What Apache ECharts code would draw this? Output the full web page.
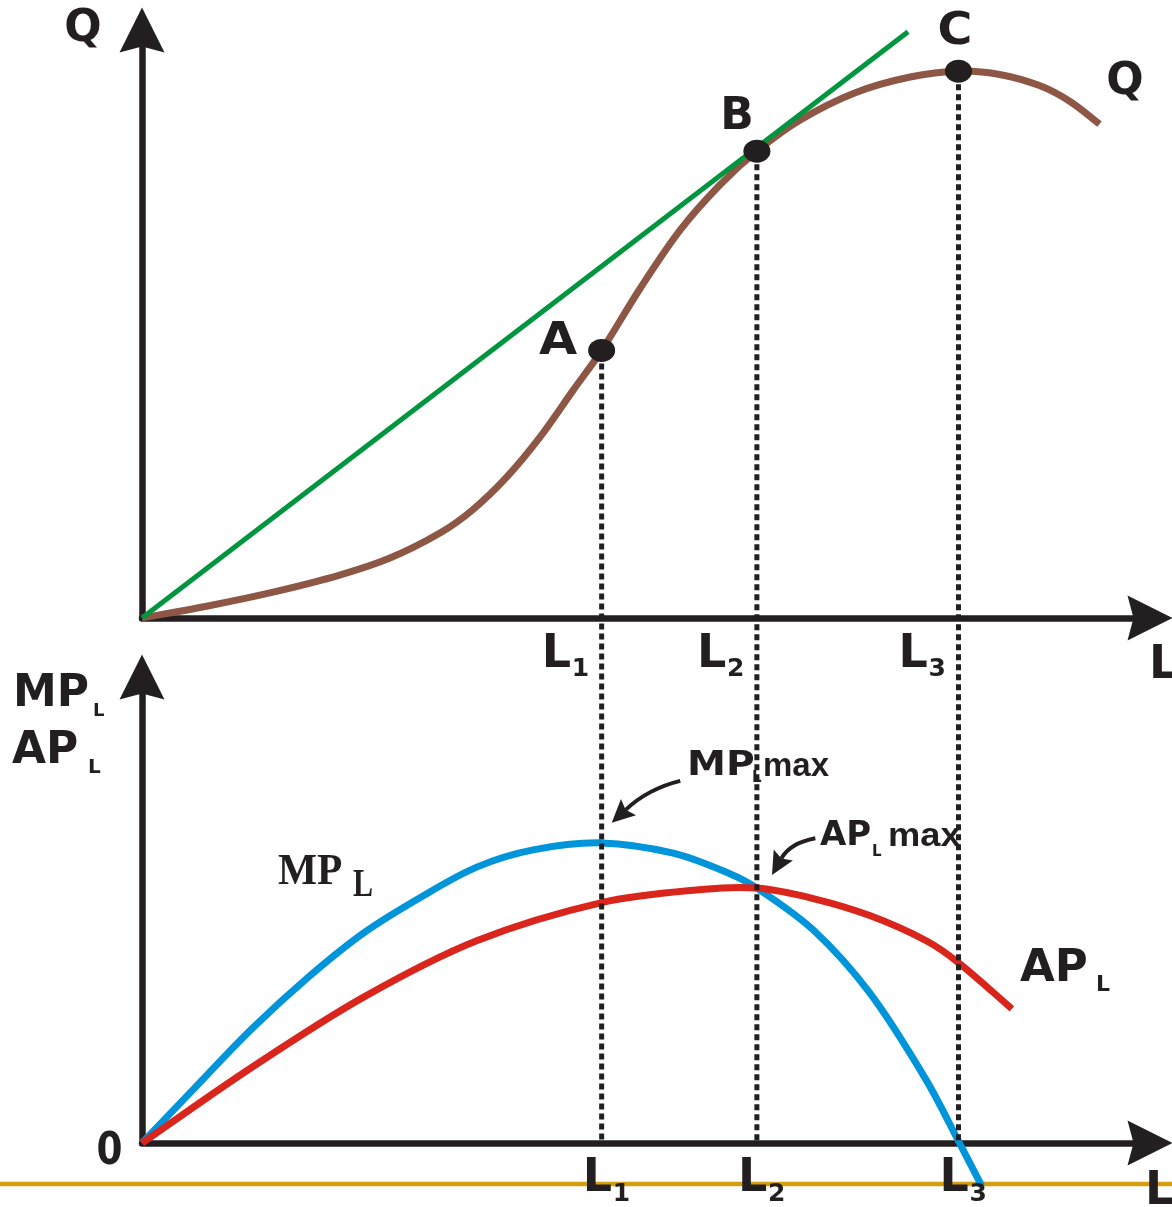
<!DOCTYPE html>
<html>
<head>
<meta charset="utf-8">
<script src="https://cdn.jsdelivr.net/npm/echarts@6/dist/echarts.min.js"></script>
<style>
html,body{margin:0;padding:0;background:#fff;}
#c{width:1172px;height:1207px;}
</style>
</head>
<body>
<div id="c"></div>
<script>
// ---- data (L units 0..100, output units 0..100) ----
const L_ticks = [45.6, 61.0, 81.0];          // L1, L2, L3
const tickSubs = ['1', '2', '3'];
const Q_points = [45.5, 79.4, 93.0];         // Q at A, B, C
const pointNames = ['A', 'B', 'C'];

const qL = [0, 6.4, 13.0, 19.6, 24.6, 29.6, 32.8, 36.2, 39.5, 42.8, 45.6, 49.4, 53.4, 57.3, 61.0, 65.3, 70.7, 76.2, 81.0, 85.2, 89.1, 92.1, 95.0];
const qV = [0, 2.0, 4.4, 7.3, 10.2, 14.5, 18.4, 24.0, 30.8, 38.8, 45.5, 56.0, 66.0, 73.6, 79.4, 84.7, 89.3, 92.0, 93.0, 92.4, 90.5, 87.8, 84.0];

const rayL = [0, 76.0];
const rayQ = [0, 99.7];

const mpL = [0, 5.4, 10.9, 16.5, 22.0, 27.7, 33.2, 38.8, 45.6, 52.7, 58.2, 61.0, 66.6, 72.2, 77.8, 81.1, 83.3];
const mpV = [0, 12.2, 24.5, 35.6, 45.1, 52.8, 59.2, 62.9, 64.4, 62.2, 57.9, 54.7, 45.7, 32.2, 13.5, 0, -9.2];

const apL = [0, 10.8, 21.9, 33.2, 45.6, 55.5, 61.0, 66.5, 72.2, 77.8, 81.0, 86.3];
const apV = [0, 16.1, 31.2, 43.4, 51.6, 54.4, 54.7, 52.5, 48.8, 43.4, 38.7, 28.8];

// annotation arrows (tail, bend, tip) in lower-panel units
const mpMaxArrow = [[53.4, 77.7], [50.2, 76.0], [46.6, 68.7]];
const apMaxArrow = [[66.8, 65.4], [64.3, 64.4], [62.5, 57.5]];

const pairs = (xs, ys) => xs.map((x, i) => [x, ys[i]]);

// ---- styles ----
const INK = '#231f20';
const ARROW = 'path://M22.5,0 L45,45 L22.5,39 L0,45 Z';
const F1 = 'DejaVu Sans';
const F2 = 'Liberation Sans';
const F3 = 'Liberation Serif';

function axis(grid) {
  return {
    type: 'value', gridIndex: grid, min: 0, max: 100,
    axisLine: { show: true, onZero: false, symbol: ['none', ARROW], symbolSize: [45, 45],
      lineStyle: { color: INK, width: 6.5 } },
    axisTick: { show: false }, axisLabel: { show: false }, splitLine: { show: false }
  };
}

// smooth path through screen points (chord-length cubic Hermite -> Bezier)
function smoothPath(p) {
  const n = p.length;
  const d = [];
  for (let i = 0; i < n - 1; i++) d.push(Math.hypot(p[i + 1][0] - p[i][0], p[i + 1][1] - p[i][1]) || 1e-6);
  const m = p.map((pt, i) => {
    if (i === 0) return [(p[1][0] - p[0][0]) / d[0], (p[1][1] - p[0][1]) / d[0]];
    if (i === n - 1) return [(p[i][0] - p[i - 1][0]) / d[i - 1], (p[i][1] - p[i - 1][1]) / d[i - 1]];
    const s = d[i - 1] + d[i];
    return [(p[i + 1][0] - p[i - 1][0]) / s, (p[i + 1][1] - p[i - 1][1]) / s];
  });
  let s = 'M' + p[0][0] + ',' + p[0][1];
  for (let i = 0; i < n - 1; i++) {
    const k = d[i] / 3;
    s += ' C' + (p[i][0] + m[i][0] * k) + ',' + (p[i][1] + m[i][1] * k) + ' ' +
      (p[i + 1][0] - m[i + 1][0] * k) + ',' + (p[i + 1][1] - m[i + 1][1] * k) + ' ' +
      p[i + 1][0] + ',' + p[i + 1][1];
  }
  return s;
}

function curve(name, idx, xs, ys, color, width, z) {
  return {
    name: name, type: 'custom', coordinateSystem: 'cartesian2d', xAxisIndex: idx, yAxisIndex: idx,
    data: pairs(xs, ys), silent: true, z: z, clip: false,
    renderItem: function (params, api) {
      if (params.dataIndex !== 0) return null;
      const pts = xs.map((x, i) => api.coord([x, ys[i]]));
      return { type: 'path', shape: { pathData: smoothPath(pts) },
        style: { stroke: color, lineWidth: width, fill: 'none' } };
    }
  };
}

const chart = echarts.init(document.getElementById('c'), null, { renderer: 'canvas' });

chart.setOption({
  animation: false,
  backgroundColor: '#ffffff',
  grid: [
    { left: 142, right: 22, top: 30, bottom: 589, outerBoundsMode: 'none' },
    { left: 142, right: 22, top: 677, bottom: 64, outerBoundsMode: 'none' }
  ],
  xAxis: [axis(0), axis(1)],
  yAxis: [axis(0), axis(1)],
  series: [
    curve('Q', 0, qL, qV, '#8E5645', 7, 3),
    { name: 'ray', type: 'line', xAxisIndex: 0, yAxisIndex: 0, data: pairs(rayL, rayQ),
      showSymbol: false, silent: true, z: 4,
      lineStyle: { color: '#00953F', width: 5 } },
    { name: 'points', type: 'scatter', xAxisIndex: 0, yAxisIndex: 0, data: pairs(L_ticks, Q_points),
      symbolSize: [27, 23], itemStyle: { color: INK, opacity: 1 }, silent: true, z: 6 },
    curve('MPL', 1, mpL, mpV, '#0095DA', 7, 3),
    curve('APL', 1, apL, apV, '#DA251D', 7, 4)
  ]
});

// ---- overlay: dotted guides, annotation arrows and text ----
function T(x, base, text, size, opt) {
  opt = opt || {};
  return {
    type: 'text', x: x, y: base - 0.35 * size, z: 100, silent: true,
    scaleX: opt.sx || 1,
    style: {
      text: text, fontSize: size, fontWeight: 'bold', fontFamily: opt.ff || F1,
      fill: INK, align: opt.align || 'left', verticalAlign: 'middle'
    }
  };
}

const g = [];
// slide underline
g.push({ type: 'line', z: 1, silent: true, shape: { x1: 0, y1: 1184, x2: 1172, y2: 1184 },
  style: { stroke: '#D49E0F', lineWidth: 4.5 } });

L_ticks.forEach((l, i) => {
  const top = chart.convertToPixel({ xAxisIndex: 0, yAxisIndex: 0 }, [l, Q_points[i]]);
  const bot = chart.convertToPixel({ xAxisIndex: 1, yAxisIndex: 1 }, [l, 0]);
  g.push({ type: 'line', z: 50, silent: true,
    shape: { x1: top[0], y1: top[1] + 13, x2: bot[0], y2: bot[1] },
    style: { stroke: INK, lineWidth: 5, lineDash: [6, 4] } });
  g.push(T(top[0] - 60, 671, 'L', 46));
  g.push(T(top[0] - 30, 678, tickSubs[i], 25));
  g.push(T(bot[0] - 19, 1195, 'L', 46));
  g.push(T(bot[0] + 11, 1203, tickSubs[i], 25));
});

// curved annotation arrows
[mpMaxArrow, apMaxArrow].forEach(a => {
  const p = a.map(c => chart.convertToPixel({ xAxisIndex: 1, yAxisIndex: 1 }, c));
  const tip = p[2], cp = p[1], tail = p[0];
  let dx = tip[0] - cp[0], dy = tip[1] - cp[1];
  const len = Math.hypot(dx, dy); dx /= len; dy /= len;
  const nx = -dy, ny = dx;
  const H = 23, W = 11;
  const back = [tip[0] - dx * H, tip[1] - dy * H];
  const notch = [back[0] + dx * 4, back[1] + dy * 4];
  g.push({ type: 'bezierCurve', z: 60, silent: true,
    shape: { x1: tail[0], y1: tail[1], cpx1: cp[0], cpy1: cp[1], x2: notch[0], y2: notch[1] },
    style: { stroke: INK, lineWidth: 4, fill: 'none' } });
  g.push({ type: 'polygon', z: 60, silent: true,
    shape: { points: [tip, [back[0] + nx * W, back[1] + ny * W], notch, [back[0] - nx * W, back[1] - ny * W]] },
    style: { fill: INK } });
});

// point labels
g.push(T(558, 358, 'A', 44, { align: 'center', sx: 1.12 }));
g.push(T(737, 133, 'B', 44, { align: 'center' }));
g.push(T(955, 48, 'C', 44, { align: 'center', sx: 1.08 }));

// axis titles
g.push(T(83, 45, 'Q', 44, { align: 'center' }));
g.push(T(1125, 98, 'Q', 44, { align: 'center' }));
g.push(T(1149, 682, 'L', 46));
g.push(T(1145, 1208, 'L', 46));
g.push(T(13, 710, 'MP', 44));
g.push(T(93, 718, 'L', 18));
g.push(T(12, 767, 'AP', 44));
g.push(T(88, 775, 'L', 20));
g.push(T(109.5, 1168, '0', 44, { align: 'center', sx: 0.85 }));

// curve labels
g.push(T(278, 888, 'MP', 45, { ff: F3, sx: 0.92 }));
g.push(T(353, 900, 'L', 40, { ff: F3, sx: 0.75 }));
g.push(T(1020, 985, 'AP', 45));
g.push(T(1096, 993, 'L', 22));

// annotations
g.push(T(687, 778, 'MP', 34, { sx: 1.15 }));
g.push(T(752, 783, 'L', 15));
g.push(T(763, 778, 'max', 33, { ff: F2 }));
g.push(T(820, 848, 'AP', 34));
g.push(T(872, 857, 'L', 15));
g.push(T(888, 848, 'max', 33, { ff: F2, sx: 1.1 }));

chart.setOption({ graphic: g });
</script>
</body>
</html>
